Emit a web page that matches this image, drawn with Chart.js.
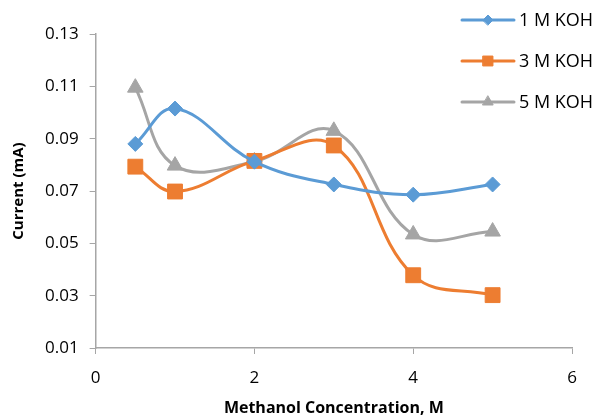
<!DOCTYPE html>
<html>
<head>
<meta charset="utf-8">
<script src="https://cdn.jsdelivr.net/npm/chart.js@4/dist/chart.umd.min.js"></script>
<style>
  html, body { margin: 0; padding: 0; background: #fff; }
  #wrap { width: 598px; height: 416px; }
</style>
</head>
<body>
<div id="wrap"><canvas id="myChart"></canvas></div>
<script>
// x positions (methanol concentration, M)
var concentration = [0.5, 1, 2, 3, 4, 5];
// current (mA) for each KOH strength
var koh1 = [0.088, 0.1015, 0.0812, 0.0725, 0.0686, 0.0725];
var koh3 = [0.0793, 0.0698, 0.0815, 0.0874, 0.0378, 0.0302];
var koh5 = [0.1095, 0.0797, 0.0813, 0.093, 0.0534, 0.0545];
var seriesNames = ['1 M KOH', '3 M KOH', '5 M KOH'];
var xTicks = [0, 2, 4, 6];
var yTicks = [0.01, 0.03, 0.05, 0.07, 0.09, 0.11, 0.13];

var FONT = '"Open Sans", sans-serif';

function pts(ys) {
    return concentration.map(function (x, i) { return { x: x, y: ys[i] }; });
}

// legend drawn by hand: line with a small marker in the middle
var excelLegend = {
    id: 'excelLegend',
    afterDraw: function (chart) {
        var ctx = chart.ctx;
        chart.data.datasets.forEach(function (ds, i) {
            var y = 20 + i * 41;
            ctx.save();
            ctx.strokeStyle = ds.borderColor;
            ctx.fillStyle = ds.backgroundColor;
            ctx.lineWidth = 3;
            ctx.lineCap = 'round';
            ctx.beginPath();
            ctx.moveTo(462, y);
            ctx.lineTo(514, y);
            ctx.stroke();
            ctx.lineWidth = 1;
            Chart.helpers.drawPoint(ctx, {
                pointStyle: ds.pointStyle,
                radius: ds.legendRadius,
                rotation: 0,
                borderWidth: 1
            }, 488, y);
            ctx.fillStyle = '#000';
            ctx.font = '18px ' + FONT;
            ctx.textBaseline = 'middle';
            ctx.fillText(ds.label, 519, y + 1);
            ctx.restore();
        });
    }
};

var ctx = document.getElementById('myChart').getContext('2d');

var chart = new Chart(ctx, {
    type: 'line',
    data: {
        datasets: [{
            label: seriesNames[0],
            data: pts(koh1),
            borderColor: '#5B9BD5',
            backgroundColor: '#5B9BD5',
            pointStyle: 'rectRot',
            pointRadius: 7.5,
            legendRadius: 5
        }, {
            label: seriesNames[1],
            data: pts(koh3),
            borderColor: '#ED7D31',
            backgroundColor: '#ED7D31',
            pointStyle: 'rect',
            pointRadius: 10.5,
            legendRadius: 7
        }, {
            label: seriesNames[2],
            data: pts(koh5),
            borderColor: '#A5A5A5',
            backgroundColor: '#A5A5A5',
            pointStyle: 'triangle',
            pointRadius: 9,
            legendRadius: 6
        }]
    },
    options: {
        responsive: true,
        maintainAspectRatio: false,
        animation: false,
        layout: { padding: { top: 34, right: 26, left: 10, bottom: 0 } },
        elements: {
            line: { borderWidth: 3, tension: 0.4 },
            point: { borderWidth: 1 }
        },
        plugins: {
            legend: { display: false },
            tooltip: { enabled: false }
        },
        scales: {
            x: {
                type: 'linear',
                min: 0,
                max: 6,
                afterBuildTicks: function (axis) {
                    axis.ticks = xTicks.map(function (v) { return { value: v }; });
                },
                afterFit: function (axis) {
                    axis.height = 68;
                },
                grid: { drawOnChartArea: false, drawTicks: true, tickLength: 6, color: '#A6A6A6' },
                border: { color: '#A6A6A6', width: 1.5 },
                ticks: { color: '#000', font: { family: FONT, size: 17 }, padding: 14 },
                title: {
                    display: true,
                    text: 'Methanol Concentration, M',
                    color: '#000',
                    font: { family: FONT, size: 16, weight: 'bold', lineHeight: 1.0 },
                    padding: { top: 4, bottom: 0 }
                }
            },
            y: {
                min: 0.01,
                max: 0.13,
                afterBuildTicks: function (axis) {
                    axis.ticks = yTicks.map(function (v) { return { value: v }; });
                },
                grid: { drawOnChartArea: false, drawTicks: true, tickLength: 6, color: '#A6A6A6' },
                border: { color: '#A6A6A6', width: 1.5 },
                ticks: {
                    color: '#000',
                    font: { family: FONT, size: 17 },
                    padding: 11,
                    callback: function (v) { return v.toFixed(2); }
                },
                title: {
                    display: true,
                    text: 'Current (mA)',
                    color: '#000',
                    font: { family: FONT, size: 15, weight: 'bold' },
                    padding: { top: 0, bottom: 6 }
                }
            }
        }
    },
    plugins: [excelLegend]
});
</script>
</body>
</html>
